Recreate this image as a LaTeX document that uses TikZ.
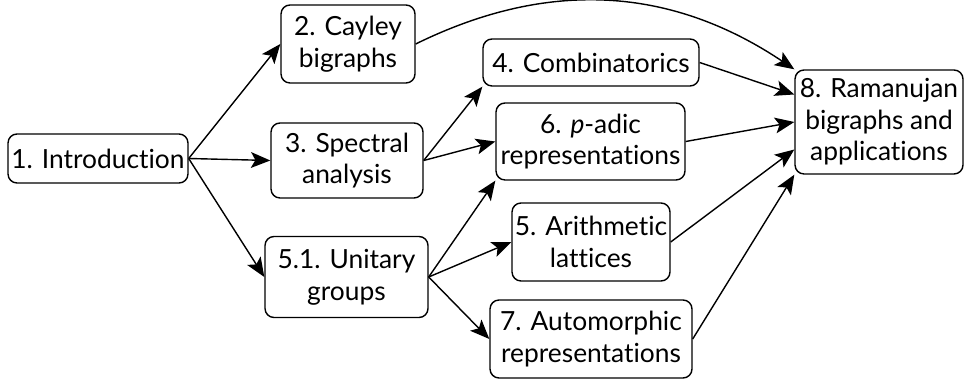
\documentclass[tikz,border=0pt]{standalone}
\usepackage{fontspec}
\setmainfont{Lato}[Ligatures=NoCommon]
\usetikzlibrary{arrows.meta}

\begin{document}
\begin{tikzpicture}[x=0.02cm, y=-0.02cm,
  sec/.style={draw, rounded corners=0.18cm, line width=0.8pt, align=center, inner sep=0pt, font=\fontsize{15}{18}\selectfont},
  dep/.style={-{Stealth[length=11pt,width=9pt,inset=2.5pt]}, line width=0.8pt}]

\useasboundingbox (0,0) rectangle (966,381);

\node[sec, minimum width=3.6cm, minimum height=0.98cm] (S1) at (98,158.5) {1. Introduction};
\node[sec, minimum width=2.68cm, minimum height=1.56cm] (S2) at (348,44) {2. Cayley\\bigraphs};
\node[sec, minimum width=3.04cm, minimum height=1.5cm] (S3) at (347,160.5) {3. Spectral\\analysis};
\node[sec, minimum width=3.26cm, minimum height=1.62cm] (S51) at (346.5,277) {5.1. Unitary\\groups};

\node[sec, minimum width=4.32cm, minimum height=0.94cm] (S4) at (591,62.5) {4. Combinatorics};
\node[sec, minimum width=3.78cm, minimum height=1.54cm] (S6) at (590.5,141.5) {6. \textit{p}-adic\\representations};
\node[sec, minimum width=3.16cm, minimum height=1.56cm] (S5) at (591,242) {5. Arithmetic\\lattices};
\node[sec, minimum width=4.04cm, minimum height=1.56cm] (S7) at (591,339) {7. Automorphic\\representations};

\node[sec, minimum width=3.36cm, minimum height=2.08cm] (S8) at (879,122) {8. Ramanujan\\bigraphs and\\applications};

\draw[dep] (S1.east) -- (S2.west);
\draw[dep] (S1.east) -- (S3.west);
\draw[dep] (S1.east) -- (S51.west);

\draw[dep] (S3.east) -- (S4.south west);
\draw[dep] (S3.east) -- (S6.west);
\draw[dep] (S51.east) -- (S6.south west);
\draw[dep] (S51.east) -- (S5.west);
\draw[dep] (S51.east) -- (S7.west);

\draw[dep] (S2.east) to[bend left=30] (S8.north west);
\draw[dep] (S4.east) -- (S8.162);
\draw[dep] (S6.east) -- (S8.west);
\draw[dep] (S5.east) -- (S8.198);
\draw[dep] (S7.east) -- (S8.south west);

\end{tikzpicture}
\end{document}
